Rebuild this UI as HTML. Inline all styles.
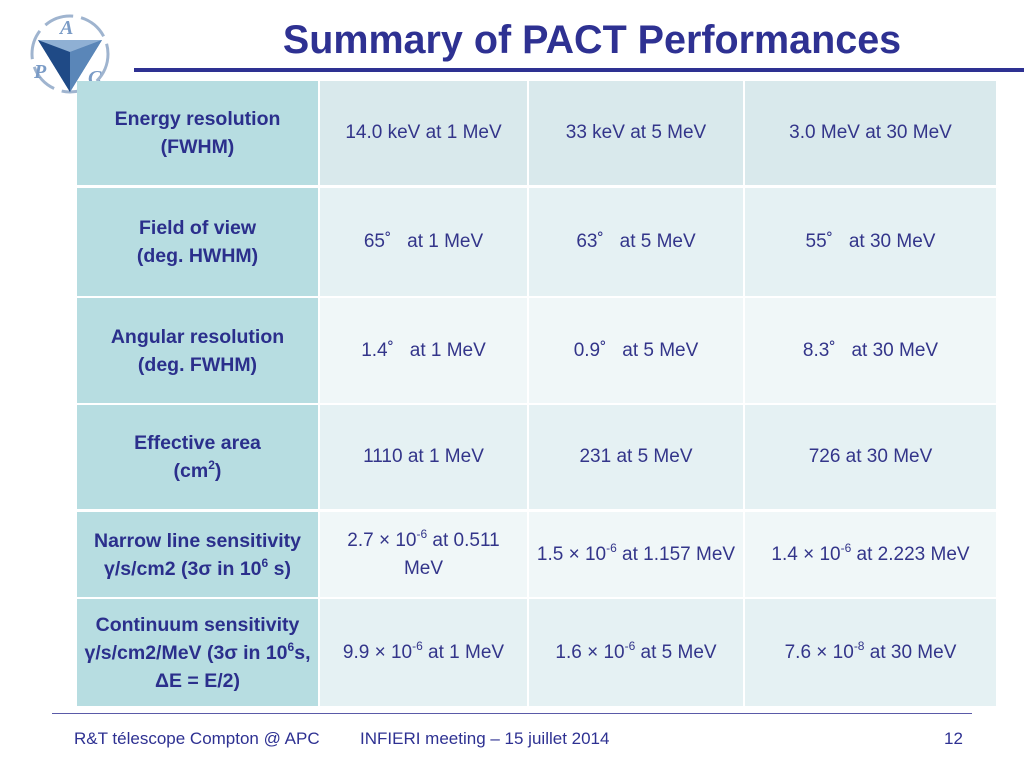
<!DOCTYPE html>
<html><head><meta charset="utf-8"><style>
body{margin:0;width:1024px;height:768px;background:#fff;position:relative;overflow:hidden;font-family:"Liberation Sans",Arial,sans-serif}
.title{position:absolute;left:190px;width:804px;top:15px;text-align:center;font-size:39.5px;font-weight:bold;color:#2e3192;line-height:50px}
.tline{position:absolute;left:134px;top:68px;width:890px;height:4px;background:#2e3192}
.cell{position:absolute;display:flex;align-items:center;justify-content:center;text-align:center;line-height:28px;color:#2e3192}
.cell>span{display:block}
.h{background:#b7dde1;font-weight:bold;font-size:19.5px;color:#2b2f8c}
.d{font-size:19px;color:#33358a}
sup{font-size:12px;vertical-align:0;position:relative;top:-8px;line-height:0}
.fline{position:absolute;left:52px;top:713px;width:920px;height:1px;background:#5a5aa8}
.foot{position:absolute;top:729px;font-size:17px;color:#2e3192}
</style></head><body>
<svg style="position:absolute;left:28px;top:12px" width="84" height="84" viewBox="0 0 84 84">
<circle cx="42" cy="42" r="38" fill="none" stroke="#9fb4cf" stroke-width="3" stroke-dasharray="30 8"/>
<polygon points="10,28 74,28 42,80" fill="#2f5f9a"/>
<polygon points="10,28 42,40 42,80" fill="#1f4a86"/>
<polygon points="74,28 42,40 42,80" fill="#5a86b8"/>
<polygon points="10,28 74,28 42,40" fill="#8fb0d4"/>
<text x="32" y="22" font-size="20" font-weight="bold" fill="#7a9bc6" font-style="italic" font-family="Liberation Serif">A</text>
<text x="6" y="66" font-size="20" font-weight="bold" fill="#7a9bc6" font-style="italic" font-family="Liberation Serif">P</text>
<text x="60" y="72" font-size="20" font-weight="bold" fill="#7a9bc6" font-style="italic" font-family="Liberation Serif">C</text>
</svg>
<div class="title">Summary of PACT Performances</div>
<div class="tline"></div>

<div>
<div class="cell h" style="left:77px;top:81px;width:241px;height:104px"><span>Energy resolution<br>(FWHM)</span></div>
<div class="cell d" style="left:320px;top:81px;width:207px;height:104px;background:#d9e9ec"><span>14.0 keV at 1 MeV</span></div>
<div class="cell d" style="left:529px;top:81px;width:214px;height:104px;background:#d9e9ec"><span>33 keV at 5 MeV</span></div>
<div class="cell d" style="left:745px;top:81px;width:251px;height:104px;background:#d9e9ec"><span>3.0 MeV at 30 MeV</span></div>

<div class="cell h" style="left:77px;top:188px;width:241px;height:108px"><span>Field of view<br>(deg. HWHM)</span></div>
<div class="cell d" style="left:320px;top:188px;width:207px;height:108px;background:#e5f1f3"><span>65˚&nbsp;&nbsp;&nbsp;at 1 MeV</span></div>
<div class="cell d" style="left:529px;top:188px;width:214px;height:108px;background:#e5f1f3"><span>63˚&nbsp;&nbsp;&nbsp;at 5 MeV</span></div>
<div class="cell d" style="left:745px;top:188px;width:251px;height:108px;background:#e5f1f3"><span>55˚&nbsp;&nbsp;&nbsp;at 30 MeV</span></div>

<div class="cell h" style="left:77px;top:298px;width:241px;height:105px"><span>Angular resolution<br>(deg. FWHM)</span></div>
<div class="cell d" style="left:320px;top:298px;width:207px;height:105px;background:#f0f7f8"><span>1.4˚&nbsp;&nbsp;&nbsp;at 1 MeV</span></div>
<div class="cell d" style="left:529px;top:298px;width:214px;height:105px;background:#f0f7f8"><span>0.9˚&nbsp;&nbsp;&nbsp;at 5 MeV</span></div>
<div class="cell d" style="left:745px;top:298px;width:251px;height:105px;background:#f0f7f8"><span>8.3˚&nbsp;&nbsp;&nbsp;at 30 MeV</span></div>

<div class="cell h" style="left:77px;top:405px;width:241px;height:104px"><span>Effective area<br>(cm<sup>2</sup>)</span></div>
<div class="cell d" style="left:320px;top:405px;width:207px;height:104px;background:#e5f1f3"><span>1110 at 1 MeV</span></div>
<div class="cell d" style="left:529px;top:405px;width:214px;height:104px;background:#e5f1f3"><span>231 at 5 MeV</span></div>
<div class="cell d" style="left:745px;top:405px;width:251px;height:104px;background:#e5f1f3"><span>726 at 30 MeV</span></div>

<div class="cell h" style="left:77px;top:512px;width:241px;height:85px"><span style="white-space:nowrap">Narrow line sensitivity<br>γ/s/cm2 (3σ in 10<sup>6</sup> s)</span></div>
<div class="cell d" style="left:320px;top:512px;width:207px;height:85px;background:#f0f7f8"><span>2.7 × 10<sup>-6</sup> at 0.511<br>MeV</span></div>
<div class="cell d" style="left:529px;top:512px;width:214px;height:85px;background:#f0f7f8"><span style="white-space:nowrap">1.5 × 10<sup>-6</sup> at 1.157 MeV</span></div>
<div class="cell d" style="left:745px;top:512px;width:251px;height:85px;background:#f0f7f8"><span style="white-space:nowrap">1.4 × 10<sup>-6</sup> at 2.223 MeV</span></div>

<div class="cell h" style="left:77px;top:599px;width:241px;height:107px"><span style="white-space:nowrap">Continuum sensitivity<br>γ/s/cm2/MeV (3σ in 10<sup>6</sup>s,<br>ΔE = E/2)</span></div>
<div class="cell d" style="left:320px;top:599px;width:207px;height:107px;background:#e5f1f3"><span>9.9 × 10<sup>-6</sup> at 1 MeV</span></div>
<div class="cell d" style="left:529px;top:599px;width:214px;height:107px;background:#e5f1f3"><span>1.6 × 10<sup>-6</sup> at 5 MeV</span></div>
<div class="cell d" style="left:745px;top:599px;width:251px;height:107px;background:#e5f1f3"><span>7.6 × 10<sup>-8</sup> at 30 MeV</span></div>
</div>

<div class="fline"></div>
<div class="foot" style="left:74px">R&amp;T télescope Compton @ APC</div>
<div class="foot" style="left:360px">INFIERI meeting – 15 juillet 2014</div>
<div class="foot" style="left:944px">12</div>
</body></html>
